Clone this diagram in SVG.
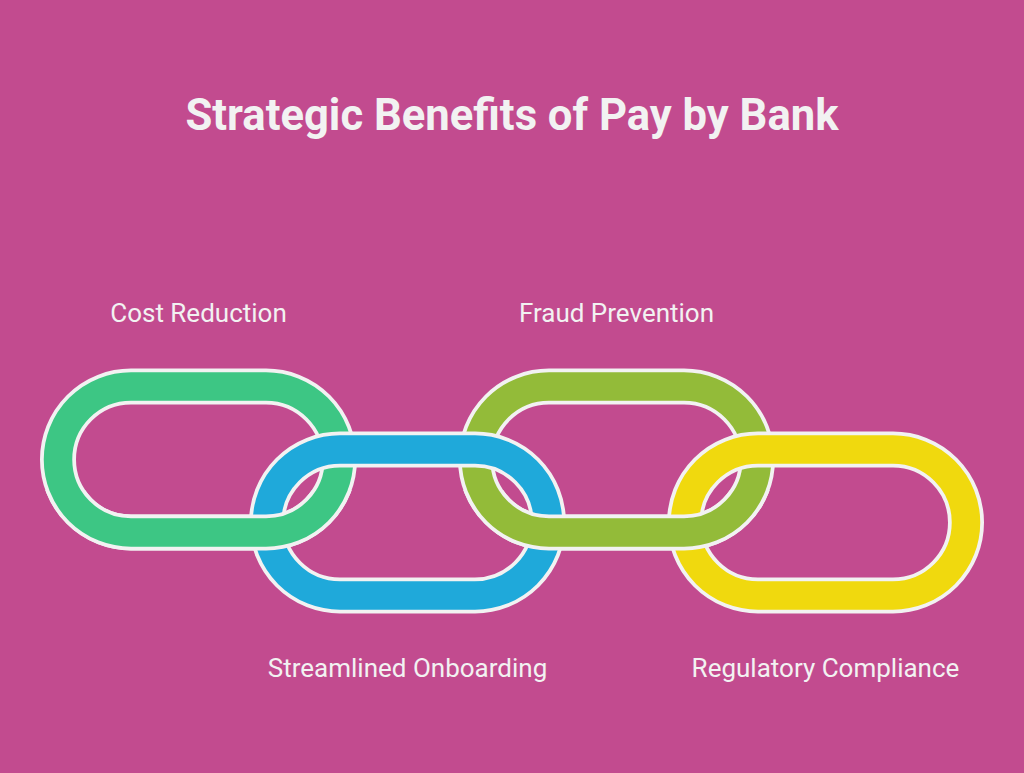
<svg xmlns="http://www.w3.org/2000/svg" width="1024" height="773" viewBox="0 0 1024 773">
<style>
.edge{fill:none;stroke:#f2f2f2;stroke-width:36}
.band{fill:none;stroke-width:28.500}
.title{font:700 43.6px Roboto,"Liberation Sans",sans-serif;fill:#f2f2f2;text-anchor:middle}
.label{font:400 26px Roboto,"Liberation Sans",sans-serif;fill:#f2f2f2;text-anchor:middle}
</style>
<defs>
<clipPath id="lower"><rect x="0" y="490" width="1024" height="125"/></clipPath>
<g id="ring1"><rect class="edge" x="58" y="386.500" width="281" height="146" rx="73"/><rect class="band" x="58" y="386.500" width="281" height="146" rx="73" stroke="#3dc684"/></g>
<g id="ring3"><rect class="edge" x="476" y="386.500" width="281" height="146" rx="73"/><rect class="band" x="476" y="386.500" width="281" height="146" rx="73" stroke="#93bb39"/></g>
</defs>
<rect width="1024" height="773" fill="#c24b8f"/>
<text class="title" x="512" y="130">Strategic Benefits of Pay by Bank</text>
<g id="cost-reduction"><use href="#ring1"/><text class="label" x="198.500" y="322">Cost Reduction</text></g>
<g id="fraud-prevention"><use href="#ring3"/><text class="label" x="616.500" y="322">Fraud Prevention</text></g>
<g id="streamlined-onboarding"><rect class="edge" x="267" y="449.500" width="281" height="146" rx="73"/><rect class="band" x="267" y="449.500" width="281" height="146" rx="73" stroke="#1fa9da"/><text class="label" x="407.500" y="677">Streamlined Onboarding</text></g>
<g id="regulatory-compliance"><rect class="edge" x="685" y="449.500" width="281" height="146" rx="73"/><rect class="band" x="685" y="449.500" width="281" height="146" rx="73" stroke="#f0d90e"/><text class="label" x="825.500" y="677">Regulatory Compliance</text></g>
<g id="weave-overlaps" clip-path="url(#lower)"><use href="#ring1"/><use href="#ring3"/></g>
</svg>
